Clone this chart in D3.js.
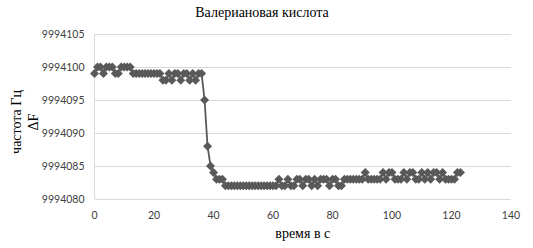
<!DOCTYPE html>
<html><head><meta charset="utf-8">
<script src="https://cdn.jsdelivr.net/npm/d3@7"></script>
<style>body{margin:0;background:#fff}</style>
</head><body>
<script>
const title = "Валериановая кислота";
const xTitle = "время в с";
const yTitleLines = ["частота Гц", "ΔF"];
const xTicks = [0, 20, 40, 60, 80, 100, 120, 140];
const yTicks = [9994080, 9994085, 9994090, 9994095, 9994100, 9994105];
const times = d3.range(0, 124);
const offsets = [
  99,100,100,99,100,100,100,99,99,100, 100,100,100,99,99,99,99,99,99,99,
  99,99,99,98,98,99,98,99,99,98, 99,99,98,99,98,99,99,95,88,85,
  84,83,83,83,82,82,82,82,82,82, 82,82,82,82,82,82,82,82,82,82,
  82,82,83,82,82,83,82,82,83,83, 82,83,83,82,83,82,83,83,83,82,
  83,83,82,82,83,83,83,83,83,83, 83,84,83,83,83,83,83,84,83,84,
  84,83,83,83,84,83,84,84,83,83, 84,83,84,83,84,84,83,84,83,83,
  83,83,84,84
];
const values = offsets.map(v => 9994000 + v);

const W = 533, H = 248;
const m = {l: 94.5, r: 22, t: 34, b: 49};
const svg = d3.select("body").append("svg").attr("width", W).attr("height", H);
const x = d3.scaleLinear().domain([0, 140]).range([m.l, W - m.r]);
const y = d3.scaleLinear().domain([9994080, 9994105]).range([H - m.b, m.t]);

svg.append("g").selectAll("line").data(yTicks).join("line")
  .attr("x1", m.l).attr("x2", W - m.r)
  .attr("y1", d => Math.round(y(d)) + 0.5).attr("y2", d => Math.round(y(d)) + 0.5)
  .attr("stroke", "#d9d9d9").attr("stroke-width", 1);
svg.append("line").attr("x1", m.l).attr("x2", m.l)
  .attr("y1", y(9994105)).attr("y2", y(9994080))
  .attr("stroke", "#d9d9d9");

svg.append("g").selectAll("text").data(yTicks).join("text")
  .attr("x", m.l - 10).attr("y", d => y(d)).attr("dy", "0.35em")
  .attr("text-anchor", "end").attr("font-family", "Lato, sans-serif")
  .attr("font-size", 10.5).attr("fill", "#404040").text(d => d);
svg.append("g").selectAll("text").data(xTicks).join("text")
  .attr("x", d => x(d)).attr("y", H - m.b + 20)
  .attr("text-anchor", "middle").attr("font-family", "Lato, sans-serif")
  .attr("font-size", 10.5).attr("fill", "#404040").text(d => d);

const data = times.map((t, i) => ({t, v: values[i]}));
svg.append("path").datum(data)
  .attr("d", d3.line().x(d => x(d.t)).y(d => y(d.v)))
  .attr("fill", "none").attr("stroke", "#595959").attr("stroke-width", 1.8);
const r = 4.5;
svg.append("g").selectAll("path").data(data).join("path")
  .attr("d", d => {
    const cx = x(d.t), cy = y(d.v);
    return `M${cx},${cy - r}L${cx + r},${cy}L${cx},${cy + r}L${cx - r},${cy}Z`;
  })
  .attr("fill", "#595959");

svg.append("text").attr("x", 262).attr("y", 17).attr("text-anchor", "middle")
  .attr("font-family", "'Liberation Serif', 'Times New Roman', serif")
  .attr("font-size", 14).attr("fill", "#000").text(title);
svg.append("text").attr("x", x(70)).attr("y", 238).attr("text-anchor", "middle")
  .attr("font-family", "'Liberation Serif', 'Times New Roman', serif")
  .attr("font-size", 14).attr("fill", "#000").text(xTitle);
const yt = svg.append("text").attr("transform", "translate(0,122) rotate(-90)")
  .attr("text-anchor", "middle")
  .attr("font-family", "'Liberation Serif', 'Times New Roman', serif")
  .attr("font-size", 14).attr("fill", "#000");
yt.append("tspan").attr("x", 0).attr("y", 21).text(yTitleLines[0]);
yt.append("tspan").attr("x", 0).attr("y", 38).text(yTitleLines[1]);
</script>
</body></html>
